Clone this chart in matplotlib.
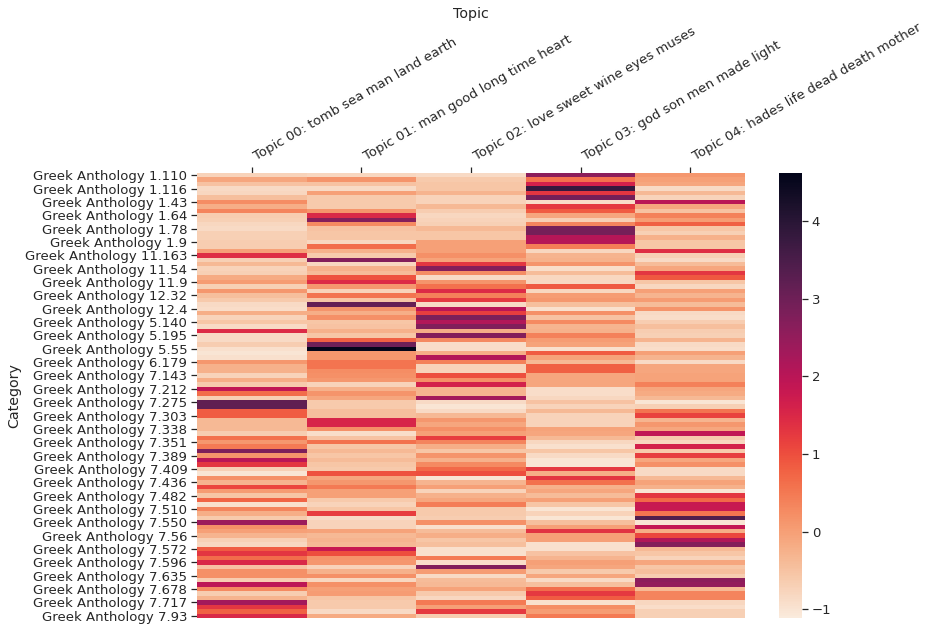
import matplotlib
matplotlib.use("Agg")
import matplotlib.pyplot as plt
import numpy as np
import seaborn as sns

topics = ["Topic 00: tomb sea man land earth", "Topic 01: man good long time heart",
          "Topic 02: love sweet wine eyes muses", "Topic 03: god son men made light",
          "Topic 04: hades life dead death mother"]
tick_labels = ["1.110","1.116","1.43","1.64","1.78","1.9","11.163","11.54","11.9","12.32","12.4",
               "5.140","5.195","5.55","6.179","7.143","7.212","7.275","7.303","7.338","7.351",
               "7.389","7.409","7.436","7.482","7.510","7.550","7.56","7.572","7.596","7.635",
               "7.678","7.717","7.93"]

topic0 = [-0.75,-0.1,-0.5,-0.85,-0.8,-0.45,0.25,-0.2,0.35,-0.65,-0.7,-0.8,-0.85,-0.7,-0.7,-0.65,-0.65,0.0,1.4,-0.7,
          -0.35,-0.75,-0.7,-0.15,0.05,-0.7,0.1,-0.45,-0.6,-0.85,-0.9,-0.2,-0.75,-0.55,-0.85,1.45,-0.85,-0.85,-0.65,-0.95,
          -1.0,-0.95,0.1,-0.25,-0.25,-0.75,-0.2,-0.6,1.9,0.65,-0.7,3.2,3.2,0.85,0.85,-0.35,-0.35,-0.35,-0.65,0.6,
          0.1,0.5,2.8,0.15,2.0,1.3,-0.7,-1.0,0.2,-0.3,1.1,0.05,-0.55,0.75,-0.95,0.35,-0.2,-0.6,2.4,0.2,
          0.0,-0.3,-0.7,-0.8,0.85,1.3,0.65,1.5,-0.5,0.2,0.2,-0.65,1.95,0.3,-0.65,-0.3,2.3,1.3,0.8,1.5]
topic1 = [-0.8,0.15,-0.5,-0.85,0.0,-0.6,-0.6,-0.6,0.15,1.5,2.7,0.3,-0.5,-0.55,-0.55,-0.8,0.65,-0.25,-0.6,2.7,
          -0.8,-0.25,-0.4,0.95,1.45,0.1,-0.75,0.55,-0.55,3.1,0.15,-0.2,0.2,-0.55,-0.5,-0.25,-0.55,0.8,3.0,4.6,
          0.1,0.1,0.55,0.55,0.25,0.2,0.1,-0.75,-0.25,0.15,-0.1,-0.6,-0.6,-0.45,-0.45,1.55,1.55,0.2,-0.9,-0.5,
          0.6,-0.55,-0.35,-0.55,-0.4,-0.55,-0.6,0.95,-0.1,0.1,0.5,0.0,0.0,-0.6,-0.75,-0.55,1.2,-0.85,-0.75,-0.75,
          -0.05,-0.35,-0.3,-0.35,1.8,1.0,0.15,0.1,-0.75,-0.25,0.2,-0.8,0.2,0.0,0.05,-0.55,-0.6,-0.6,-0.85,-0.15]
topic2 = [-0.85,-0.6,-0.55,-0.55,-0.3,-0.75,-0.75,-0.35,-0.65,-0.8,-0.75,-0.7,-0.35,-0.55,-0.55,0.0,0.0,0.0,0.2,-0.05,
          1.3,2.7,0.25,-0.85,0.15,0.6,1.45,0.4,1.25,-0.85,2.0,1.2,2.8,2.1,2.75,-0.2,2.7,0.3,-0.9,-0.9,
          -0.2,2.1,0.4,-0.75,-0.75,1.0,0.2,1.6,-0.3,-0.3,2.3,-0.85,-1.0,-0.85,-0.35,0.1,-0.1,0.2,0.0,1.2,
          0.35,-0.2,-0.55,0.15,-0.25,0.3,0.7,1.0,-1.0,-0.3,0.0,-0.75,-0.25,-0.1,0.45,-0.6,-0.6,-0.65,0.2,-0.95,
          -0.4,-0.2,-0.55,-0.45,-0.95,-0.95,0.5,-0.9,2.75,0.05,-0.85,-0.4,-0.35,-0.05,-0.6,-0.8,0.5,0.0,1.25,-0.65]
topic3 = [2.6,0.6,1.6,3.8,1.3,2.9,-0.9,1.25,0.85,-0.1,-0.7,0.35,2.9,2.9,2.05,2.05,0.45,-0.8,-0.3,-0.25,
          0.15,-0.9,-0.4,-0.8,-0.8,0.9,-0.8,0.05,0.1,-0.45,-0.95,0.2,-0.5,0.3,-0.3,-0.25,0.4,0.05,-0.05,-0.95,
          0.85,-0.05,-0.35,0.8,0.8,-0.1,-0.1,-0.1,-0.9,-0.9,-0.8,-0.5,-0.75,-0.35,-0.75,-0.75,-0.75,-0.05,-0.1,-0.35,
          -0.8,-0.95,-0.55,-0.85,-1.0,-1.0,1.25,-0.2,1.3,0.6,-0.25,-0.1,-0.4,0.0,-0.55,-1.0,-0.75,-1.0,-0.45,0.0,
          1.35,0.0,0.0,-0.95,-0.95,-0.5,-0.3,0.0,-0.1,-0.6,-0.1,-0.85,-0.45,0.65,1.25,0.85,-0.95,0.25,0.05,0.5]
topic4 = [0.1,0.0,-0.1,-0.85,-0.35,-0.75,2.0,-0.1,-0.5,0.4,0.05,0.8,-0.55,-0.7,-0.25,-0.55,-0.55,1.4,-0.7,-0.85,
          -0.4,-0.1,1.3,0.9,-0.55,-0.8,0.0,-0.3,0.05,-0.4,0.15,-0.85,-0.9,-0.65,-0.45,-0.65,-0.7,-0.3,-0.85,-0.9,
          0.0,-0.3,-0.85,-0.1,-0.1,-0.05,-0.05,0.4,-0.1,-0.15,-0.35,-1.0,-0.7,0.55,1.15,-0.3,0.1,-0.1,1.9,-0.6,
          -0.8,1.6,-0.6,1.2,-0.1,0.2,-0.85,-0.85,-0.35,-0.05,-0.25,-1.0,1.3,0.7,1.8,1.8,0.55,3.4,-1.0,1.85,
          -0.2,1.1,2.1,2.7,-0.35,-0.55,-0.75,-0.1,-0.55,-0.45,-0.65,2.6,2.5,-0.35,0.35,0.35,-0.8,-0.9,-0.7,-0.7]

W, H = 930, 631
FS = 9.5
sns.set_theme(style="ticks", font_scale=1.0)
plt.rcParams.update({"font.size": FS, "axes.labelsize": 10.3, "xtick.labelsize": FS, "ytick.labelsize": FS})
fig = plt.figure(figsize=(W/100, H/100), dpi=100)
ax = fig.add_axes([197/W, 1-618/H, 548/W, 445/H])
cax = fig.add_axes([779/W, 1-618/H, 23/W, 445/H])

data = np.column_stack([topic0, topic1, topic2, topic3, topic4])
sns.heatmap(data, ax=ax, cbar_ax=cax, cmap="rocket_r", vmin=-1.11, vmax=4.62)

ax.xaxis.tick_top()
ax.xaxis.set_label_position("top")
ax.set_xticks(np.arange(5)+0.5)
ax.set_xticklabels(topics, rotation=30, ha="left", fontsize=FS)
ax.set_yticks(np.arange(0, 100, 3)+0.5)
ax.set_yticklabels(["Greek Anthology "+t for t in tick_labels], rotation=0, fontsize=FS, va="center_baseline")
ax.tick_params(axis="both", length=4.0, width=0.9, color=".15", labelcolor=".15")
ax.tick_params(axis="x", pad=3)
ax.tick_params(axis="y", pad=3)
fig.text(471/W, 1-14/H, "Topic", ha="center", va="center", fontsize=10.3, color=".15")
fig.text(14/W, 1-396/H, "Category", rotation=90, ha="center", va="center", fontsize=10.3, color=".15")
cax.tick_params(length=4.0, width=0.9, labelsize=FS, color=".15", labelcolor=".15", pad=3)
cax.set_yticks([-1,0,1,2,3,4])
fig.savefig("out.png", dpi=100)
